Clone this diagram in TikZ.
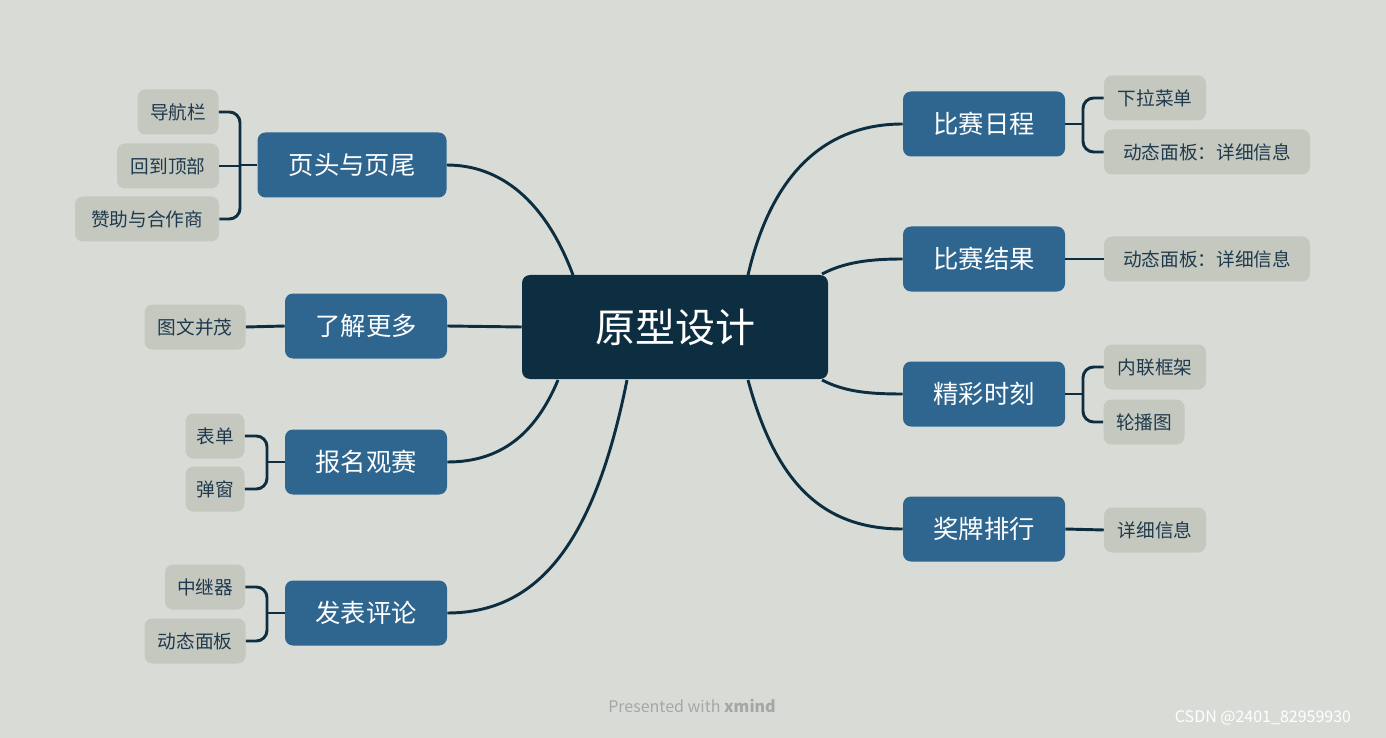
\documentclass[tikz,border=0pt]{standalone}
\usepackage{fontspec}
\setmainfont{Noto Sans CJK SC}
\begin{document}
\begin{tikzpicture}[x=0.75pt,y=-0.75pt,
  ln/.style={draw=cline,line width=2.2pt},
  center/.style={fill=cdark,rounded corners=6pt,text=white,font=\fontsize{30}{34}\selectfont,minimum width=229.5pt,minimum height=78pt,inner sep=0pt},
  mainb/.style={fill=cmain,rounded corners=6pt,text=white,font=\fontsize{19}{22}\selectfont,minimum height=48.75pt,inner sep=0pt},
  leaf/.style={fill=cleaf,rounded corners=6pt,text=ctext,font=\fontsize{14}{16}\selectfont,minimum height=33.75pt,inner sep=0pt}]
\definecolor{bg}{HTML}{D9DCD6}
\definecolor{cdark}{HTML}{0C2E40}
\definecolor{cmain}{HTML}{2E6690}
\definecolor{cleaf}{HTML}{C5C8BF}
\definecolor{ctext}{HTML}{1F3A4D}
\definecolor{cline}{HTML}{0C2E40}
\fill[bg] (0,0) rectangle (1386,738);
\useasboundingbox (0,0) rectangle (1386,738);
\node[center] (c) at (675,327) {原型设计};
% right main
\node[mainb,minimum width=121.5pt] (r1) at (984,124) {比赛日程};
\node[mainb,minimum width=121.5pt] (r2) at (984,259) {比赛结果};
\node[mainb,minimum width=121.5pt] (r3) at (984,394) {精彩时刻};
\node[mainb,minimum width=121.5pt] (r4) at (984,529) {奖牌排行};
% left main
\node[mainb,minimum width=141.75pt] (l1) at (352,165) {页头与页尾};
\node[mainb,minimum width=121.5pt] (l2) at (366,326) {了解更多};
\node[mainb,minimum width=121.5pt] (l3) at (366,462) {报名观赛};
\node[mainb,minimum width=121.5pt] (l4) at (366,613) {发表评论};
% right leaves
\node[leaf,minimum width=76.5pt] (a1) at (1155,98) {下拉菜单};
\node[leaf,minimum width=154.5pt] (a2) at (1207,152) {动态面板：详细信息};
\node[leaf,minimum width=154.5pt] (b1) at (1207,259) {动态面板：详细信息};
\node[leaf,minimum width=76.5pt] (c1) at (1155,367) {内联框架};
\node[leaf,minimum width=60.75pt] (c2) at (1144,422) {轮播图};
\node[leaf,minimum width=76.5pt] (d1) at (1155,530) {详细信息};
% left leaves
\node[leaf,minimum width=60.75pt] (e1) at (178,112) {导航栏};
\node[leaf,minimum width=76.5pt] (e2) at (168,166) {回到顶部};
\node[leaf,minimum width=108pt] (e3) at (147,219) {赞助与合作商};
\node[leaf,minimum width=75.75pt] (f1) at (195,327) {图文并茂};
\node[leaf,minimum width=44.25pt] (g1) at (215,436) {表单};
\node[leaf,minimum width=44.25pt] (g2) at (215,489) {弹窗};
\node[leaf,minimum width=60pt] (h1) at (205,587) {中继器};
\node[leaf,minimum width=75.75pt] (h2) at (195,641) {动态面板};
% curves from center
\draw[ln] (748,275) .. controls (770,180) and (820,124) .. (r1.west);
\draw[ln] (822,274) .. controls (845,262) and (870,259) .. (r2.west);
\draw[ln] (822,380) .. controls (845,392) and (870,394) .. (r3.west);
\draw[ln] (748,380) .. controls (775,480) and (820,529) .. (r4.west);
\draw[ln] (573,275) .. controls (545,200) and (500,165) .. (l1.east);
\draw[ln] (c.west) -- (l2.east);
\draw[ln] (558,380) .. controls (535,435) and (500,462) .. (l3.east);
\draw[ln] (627,380) .. controls (595,540) and (540,613) .. (l4.east);
% right brackets
\draw[ln] (r1.east) -- (1083,124);
\draw[ln,rounded corners=8pt] (a1.west) -- (1083,98) -- (1083,152) -- (a2.west);
\draw[ln] (r2.east) -- (b1.west);
\draw[ln] (r3.east) -- (1083,394);
\draw[ln,rounded corners=8pt] (c1.west) -- (1083,367) -- (1083,422) -- (c2.west);
\draw[ln] (r4.east) -- (d1.west);
% left brackets
\draw[ln] (l1.west) -- (240,165);
\draw[ln,rounded corners=8pt] (e1.east) -- (240,112) -- (240,219) -- (e3.east);
\draw[ln] (e2.east) -- (240,166);
\draw[ln] (l2.west) -- (f1.east);
\draw[ln] (l3.west) -- (267,462);
\draw[ln,rounded corners=8pt] (g1.east) -- (267,436) -- (267,489) -- (g2.east);
\draw[ln] (l4.west) -- (267,613);
\draw[ln,rounded corners=8pt] (h1.east) -- (267,587) -- (267,641) -- (h2.east);
% footer
\node[text=gray!70,font=\fontsize{12}{14}\selectfont] (ft) at (692,706) {Presented with \textbf{xmind}};
\node[text=white,font=\fontsize{12}{14}\selectfont] (wm) at (1263,718) {CSDN @2401\_82959930};
\end{tikzpicture}
\end{document}
